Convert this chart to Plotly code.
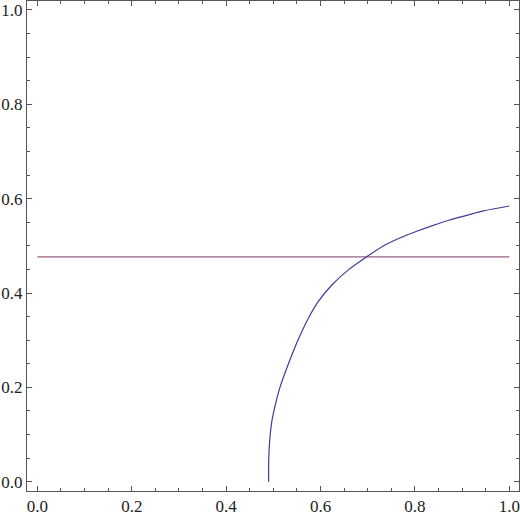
import plotly.graph_objects as go

# curve
curve_x = [0.490, 0.4902, 0.4924, 0.497, 0.504, 0.515, 0.529, 0.543, 0.553, 0.574,
           0.595, 0.624, 0.659, 0.698, 0.733, 0.768, 0.804, 0.839, 0.874, 0.910, 0.945, 1.0]
curve_y = [0.0, 0.046, 0.088, 0.129, 0.162, 0.203, 0.242, 0.278, 0.302, 0.346,
           0.3816, 0.417, 0.449, 0.477, 0.4997, 0.5166, 0.531, 0.5435, 0.5548, 0.5646, 0.574, 0.5845]

level_x = [0.0, 1.0]
level_y = [0.4764, 0.4764]

tick_vals = [0.0, 0.2, 0.4, 0.6, 0.8, 1.0]
tick_text = ["0.0", "0.2", "0.4", "0.6", "0.8", "1.0"]

fig = go.Figure()
fig.add_trace(go.Scatter(x=level_x, y=level_y, mode="lines",
                         line=dict(color="#9a5f85", width=1.2)))
fig.add_trace(go.Scatter(x=curve_x, y=curve_y, mode="lines", line_shape="spline",
                         line=dict(color="#3d3d99", width=1.2, smoothing=0.8)))

axis_style = dict(
    tickvals=tick_vals, ticktext=tick_text,
    ticks="inside", ticklen=5, tickwidth=1, tickcolor="#555555",
    minor=dict(ticks="inside", dtick=0.05, ticklen=3, tickwidth=1, tickcolor="#555555"),
    showline=True, linecolor="#555555", linewidth=1, mirror="ticks",
    showgrid=False, zeroline=False, automargin=False,
    tickfont=dict(size=17, color="#222222"),
)

fig.update_xaxes(range=[-0.022, 1.0206], **axis_style)
fig.update_yaxes(range=[-0.0197, 1.019], **axis_style)

fig.update_layout(
    width=520, height=518,
    margin=dict(l=27, r=1, t=1, b=27),
    font=dict(family="Liberation Serif, Times New Roman, serif"),
    plot_bgcolor="white", paper_bgcolor="white",
    showlegend=False,
)

fig.write_html("out.html", config={"displayModeBar": False},
               post_script="document.body.style.margin='0';")
